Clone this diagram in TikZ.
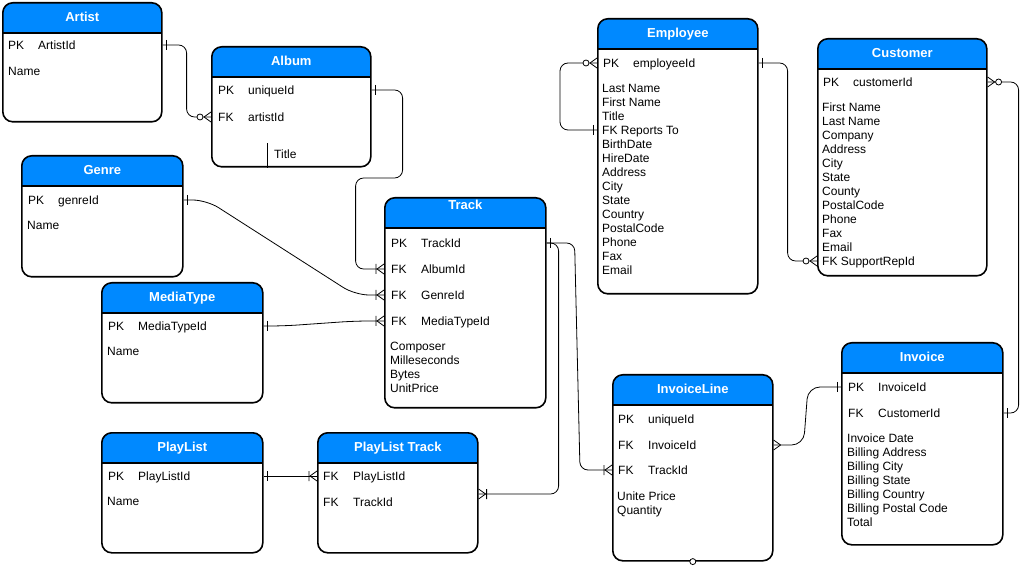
\documentclass[tikz,border=0pt]{standalone}
\usepackage{fontspec}
\setmainfont{Liberation Sans}
\usetikzlibrary{calc}
\definecolor{hdrblue}{RGB}{0,137,255}
\tikzstyle{entity} = [draw, line width=1.6pt, rounded corners=10pt, anchor=north west, inner sep=0pt,
  path picture={\fill[hdrblue, sharp corners] (path picture bounding box.north west) rectangle ([yshift=-30pt]path picture bounding box.north east);
    \draw[line width=1.6pt, sharp corners] ([yshift=-30pt]path picture bounding box.north west) -- ([yshift=-30pt]path picture bounding box.north east);}]
\tikzstyle{tabletitle} = [font=\bfseries\fontsize{13}{15}\selectfont, text=white, text height=9.3pt, text depth=0pt, inner sep=0pt]
\tikzstyle{attr} = [anchor=west, inner sep=0pt, text height=8.6pt, text depth=0pt, font=\fontsize{12}{14}\selectfont]
\tikzstyle{attrlist} = [anchor=north west, inner sep=0pt, align=left, font=\fontsize{12}{14}\selectfont]
\tikzstyle{link} = [line width=0.8pt, rounded corners=8pt]
\tikzset{
  onebar/.pic={\draw[line width=0.8pt] (-4,-5) -- (-4,5);},
  crowfoot/.pic={\draw[line width=0.8pt] (-7,0) -- (0,-5) (-7,0) -- (0,5);},
  onemany/.pic={\draw[line width=0.8pt] (-7,0) -- (0,-5) (-7,0) -- (0,5) (-8,-5) -- (-8,5);},
  zeromany/.pic={\draw[line width=0.8pt] (-7,0) -- (0,-5) (-7,0) -- (0,5);
    \draw[line width=0.8pt, fill=white] (-11,0) circle[radius=3pt];}
}
\newcommand{\key}[2]{\makebox[30pt][l]{#1}#2}

\begin{document}
\begin{tikzpicture}[x=1pt, y=-1pt]
    \useasboundingbox (0,0) rectangle (1026,569);
    % tables
    \node(artist)[entity, minimum width=159pt, minimum height=119pt] at (2,2) {};
    \node(album)[entity, minimum width=159pt, minimum height=120pt] at (211,46) {};
    \node(genre)[entity, minimum width=161pt, minimum height=121pt] at (21,155) {};
    \node(media)[entity, minimum width=161pt, minimum height=120pt] at (101,282) {};
    \node(track)[entity, minimum width=161pt, minimum height=210pt] at (384,197) {};
    \node(employee)[entity, minimum width=160pt, minimum height=275pt] at (597,18) {};
    \node(customer)[entity, minimum width=169pt, minimum height=237pt] at (817,38) {};
    \node(invoiceline)[entity, minimum width=160pt, minimum height=186pt] at (612,374) {};
    \node(invoice)[entity, minimum width=161pt, minimum height=202pt] at (841,342) {};
    \node(playlist)[entity, minimum width=161pt, minimum height=120pt] at (101,432) {};
    \node(plt)[entity, minimum width=160pt, minimum height=120pt] at (317,432) {};

    % titles
    \node(artistT)[tabletitle] at ([yshift=-15pt]artist.north) {Artist};
    \node(albumT)[tabletitle] at ([yshift=-15pt]album.north) {Album};
    \node(genreT)[tabletitle] at ([yshift=-15pt]genre.north) {Genre};
    \node(mediaT)[tabletitle] at ([yshift=-15pt]media.north) {MediaType};
    \node(trackT)[tabletitle] at ([yshift=-8pt]track.north) {Track};
    \node(employeeT)[tabletitle] at ([yshift=-15pt]employee.north) {Employee};
    \node(customerT)[tabletitle] at ([yshift=-15pt]customer.north) {Customer};
    \node(invoicelineT)[tabletitle] at ([yshift=-15pt]invoiceline.north) {InvoiceLine};
    \node(invoiceT)[tabletitle] at ([yshift=-15pt]invoice.north) {Invoice};
    \node(playlistT)[tabletitle] at ([yshift=-15pt]playlist.north) {PlayList};
    \node(pltT)[tabletitle] at ([yshift=-15pt]plt.north) {PlayList Track};

    % attributes
    \node(artistPK)[attr] at ([shift={(6,43)}]artist.north west) {\key{PK}{ArtistId}};
    \node(artistName)[attr] at ([shift={(6,69)}]artist.north west) {Name};
    \node(albumPK)[attr] at ([shift={(7,44)}]album.north west) {\key{PK}{uniqueId}};
    \node(albumFK)[attr] at ([shift={(7,71)}]album.north west) {\key{FK}{artistId}};
    \node(albumTitle)[attr] at ([shift={(63,108)}]album.north west) {Title};
    \node(genrePK)[attr] at ([shift={(7,45)}]genre.north west) {\key{PK}{genreId}};
    \node(genreName)[attr] at ([shift={(6,70)}]genre.north west) {Name};
    \node(mediaPK)[attr] at ([shift={(7,44)}]media.north west) {\key{PK}{MediaTypeId}};
    \node(mediaName)[attr] at ([shift={(6,69)}]media.north west) {Name};
    \node(trackPK)[attr] at ([shift={(7,46)}]track.north west) {\key{PK}{TrackId}};
    \node(trackAlbum)[attr] at ([shift={(7,72)}]track.north west) {\key{FK}{AlbumId}};
    \node(trackGenre)[attr] at ([shift={(7,98)}]track.north west) {\key{FK}{GenreId}};
    \node(trackMedia)[attr] at ([shift={(7,124)}]track.north west) {\key{FK}{MediaTypeId}};
    \node(trackList)[attrlist] at ([shift={(6,144.7)}]track.north west) {Composer\\Milleseconds\\Bytes\\UnitPrice};
    \node(empPK)[attr] at ([shift={(6,45)}]employee.north west) {\key{PK}{employeeId}};
    \node(empList)[attrlist] at ([shift={(5,65.7)}]employee.north west) {Last Name\\First Name\\Title};
    \node(empReports)[attr] at ([shift={(5,112)}]employee.north west) {FK Reports To};
    \node(empMore)[attrlist] at ([shift={(5,121.7)}]employee.north west) {BirthDate\\HireDate\\Address\\City\\State\\Country\\PostalCode\\Phone\\Fax\\Email};
    \node(custPK)[attr] at ([shift={(6,44)}]customer.north west) {\key{PK}{customerId}};
    \node(custList)[attrlist] at ([shift={(5,64.7)}]customer.north west) {First Name\\Last Name\\Company\\Address\\City\\State\\County\\PostalCode\\Phone\\Fax\\Email};
    \node(custRep)[attr] at ([shift={(5,223)}]customer.north west) {FK SupportRepId};
    \node(ilPK)[attr] at ([shift={(6,45)}]invoiceline.north west) {\key{PK}{uniqueId}};
    \node(ilInvoice)[attr] at ([shift={(6,71)}]invoiceline.north west) {\key{FK}{InvoiceId}};
    \node(ilTrack)[attr] at ([shift={(6,96)}]invoiceline.north west) {\key{FK}{TrackId}};
    \node(ilList)[attrlist] at ([shift={(5,117.7)}]invoiceline.north west) {Unite Price\\Quantity};
    \node(invPK)[attr] at ([shift={(7,45)}]invoice.north west) {\key{PK}{InvoiceId}};
    \node(invFK)[attr] at ([shift={(7,71)}]invoice.north west) {\key{FK}{CustomerId}};
    \node(invList)[attrlist] at ([shift={(6,91.7)}]invoice.north west) {Invoice Date\\Billing Address\\Billing City\\Billing State\\Billing Country\\Billing Postal Code\\Total};
    \node(plPK)[attr] at ([shift={(7,44)}]playlist.north west) {\key{PK}{PlayListId}};
    \node(plName)[attr] at ([shift={(6,69)}]playlist.north west) {Name};
    \node(pltPL)[attr] at ([shift={(6,44)}]plt.north west) {\key{FK}{PlayListId}};
    \node(pltTrack)[attr] at ([shift={(6,70)}]plt.north west) {\key{FK}{TrackId}};
    \draw[line width=1pt] ([xshift=56pt]album.south west) -- ++(0,-25);

    % relations
    \draw[link] (artistPK -| artist.east) -- ++(24,0) |- (albumFK -| album.west);
    \draw[link] (albumPK -| album.east) -- ++(31,0) -- ++(0,88) -- ++(-47,0) |- (trackAlbum -| track.west);
    \draw[link, rounded corners=14pt] (genrePK -| genre.east) -- ++(23,0) -- ($(trackGenre -| track.west)+(-29,0)$) -- (trackGenre -| track.west);
    \draw[link, rounded corners=14pt] (mediaPK -| media.east) -- ++(20,0) -- ($(trackMedia -| track.west)+(-29,0)$) -- (trackMedia -| track.west);
    \draw[link] (trackPK -| track.east) -- ++(12,0) |- ($(pltTrack -| plt.east)+(0,-8)$);
    \draw[link] (trackPK -| track.east) -- ++(28,0) -- ($(ilTrack -| invoiceline.west)+(-32,0)$) -- (ilTrack -| invoiceline.west);
    \draw[link] (plPK -| playlist.east) -- (pltPL -| plt.west);
    \draw[link, rounded corners=12pt] (ilInvoice -| invoiceline.east) -- ++(30,0) -- ($(invPK -| invoice.west)+(-33,0)$) -- (invPK -| invoice.west);
    \draw[link] (invFK -| invoice.east) -- ++(15,0) |- (custPK -| customer.east);
    \draw[link] (empPK -| employee.east) -- ++(29,0) |- (custRep -| customer.west);
    \draw[link] (empPK -| employee.west) -- ++(-37,0) |- (empReports -| employee.west);

    % cardinalities
    \pic[xscale=-1] at (artistPK -| artist.east) {onebar};
    \pic at (albumFK -| album.west) {zeromany};
    \pic[xscale=-1] at (albumPK -| album.east) {onebar};
    \pic at (trackAlbum -| track.west) {onemany};
    \pic[xscale=-1] at (genrePK -| genre.east) {onebar};
    \pic at (trackGenre -| track.west) {onemany};
    \pic[xscale=-1] at (mediaPK -| media.east) {onebar};
    \pic at (trackMedia -| track.west) {onemany};
    \pic[xscale=-1] at (trackPK -| track.east) {onebar};
    \pic[xscale=-1] at ($(pltTrack -| plt.east)+(0,-8)$) {onemany};
    \pic at (ilTrack -| invoiceline.west) {onemany};
    \pic[xscale=-1] at (plPK -| playlist.east) {onebar};
    \pic at (pltPL -| plt.west) {onemany};
    \pic[xscale=-1] at (ilInvoice -| invoiceline.east) {crowfoot};
    \pic at (invPK -| invoice.west) {onebar};
    \pic[xscale=-1] at (invFK -| invoice.east) {onebar};
    \pic[xscale=-1] at (custPK -| customer.east) {zeromany};
    \pic[xscale=-1] at (empPK -| employee.east) {onebar};
    \pic at (custRep -| customer.west) {zeromany};
    \pic at (empPK -| employee.west) {zeromany};
    \pic at (empReports -| employee.west) {onebar};
    \draw[line width=0.8pt, fill=white] (invoiceline.south) circle[radius=3pt];
\end{tikzpicture}
\end{document}
